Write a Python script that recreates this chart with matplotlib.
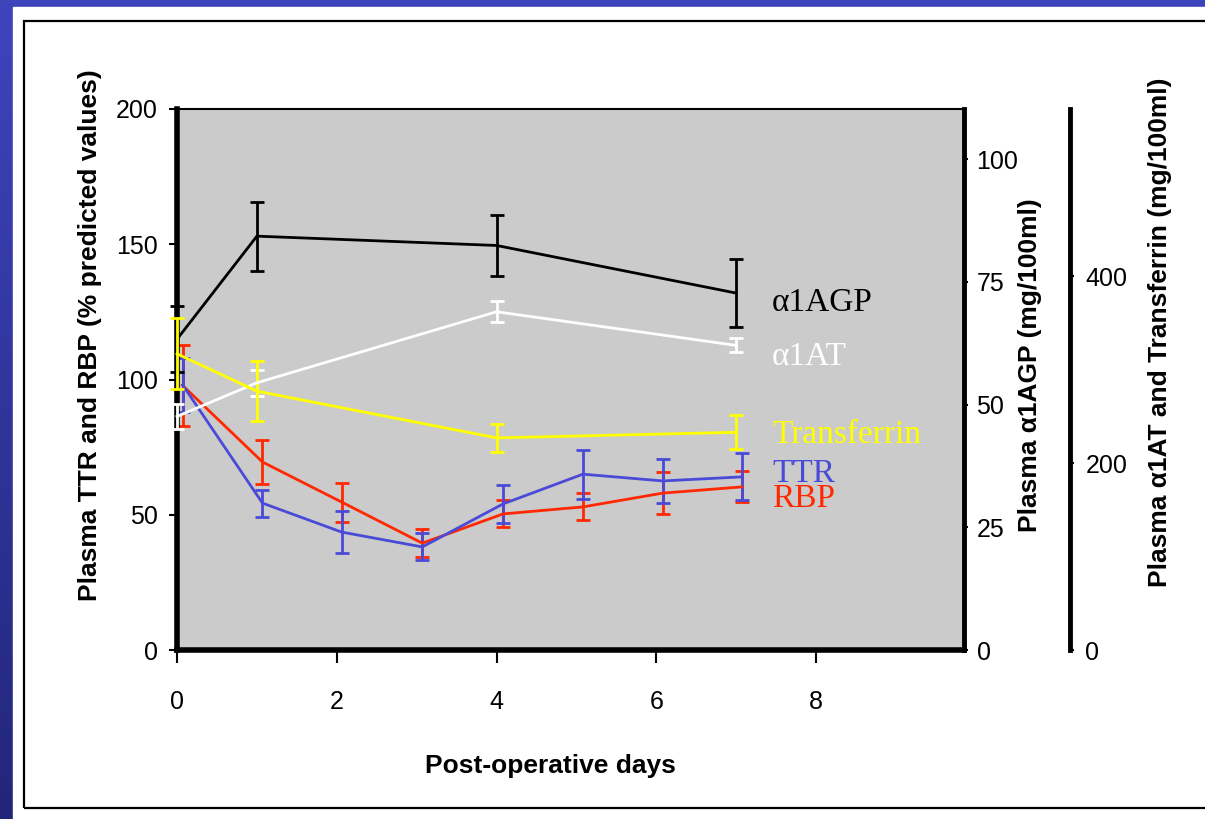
import matplotlib
matplotlib.use('Agg')
import matplotlib.pyplot as plt
import numpy as np
from matplotlib.patches import Rectangle

# Data
days = [0, 1, 4, 7]
days_tr = [0.07, 1.07, 2.06, 3.07, 4.08, 5.08, 6.08, 7.07]

# % predicted values (left axis)
ttr = [98, 54.3, 43.6, 38.1, 54, 65, 62.5, 64]
ttr_err = [10, 5, 7.7, 5, 7, 9, 8, 8.7]
rbp = [97.8, 69.5, 54.7, 39.5, 50.3, 52.9, 58, 60.3]
rbp_err = [15, 8, 7.2, 5.2, 5, 5, 7.7, 5.7]

# alpha1 AGP, mg/100ml (middle axis)
agp = [63.3, 84.3, 82.4, 72.7]
agp_err = [6.7, 7, 6.3, 7]

# alpha1 AT and transferrin, mg/100ml (right axis)
a1at = [250, 286, 362, 326]
a1at_err = [13, 14, 11, 7.5]
transferrin = [317, 277, 227, 233]
transferrin_err = [38, 32, 15, 18]

left_ticks = [0, 50, 100, 150, 200]
agp_ticks = [0, 25, 50, 75, 100]
right_ticks = [0, 200, 400]
x_ticks = [0, 2, 4, 6, 8]

W, H = 1205, 819
fig = plt.figure(figsize=(W / 100, H / 100), dpi=100)

# blue slide border + white panel + black frame
bg = fig.add_axes([0, 0, 1, 1], zorder=-10)
grad = np.linspace(0, 1, 256).reshape(-1, 1)
cmap = matplotlib.colors.LinearSegmentedColormap.from_list('b', ['#3e44bc', '#22267a'])
bg.imshow(grad, aspect='auto', cmap=cmap, extent=[0, 1, 0, 1], origin='upper')
bg.add_patch(Rectangle((13 / W, 0), 1, 1 - 7 / H, color='white'))
bg.add_patch(Rectangle((24 / W, 1 - 808 / H), 1.1, (808 - 21) / H,
                       fill=False, edgecolor='black', lw=1.6))
bg.set_xlim(0, 1)
bg.set_ylim(0, 1)
bg.axis('off')

ax = fig.add_axes([177 / W, 1 - 650 / H, (964 - 177) / W, (650 - 109) / H])
ax.set_facecolor('#cbcbcb')
ax.set_xlim(0, 9.85)
ax.set_ylim(0, 200)

ax2 = ax.twinx()
ax2.set_ylim(0, 110.2)
ax3 = ax.twinx()
ax3.set_ylim(0, 579)
ax3.spines['right'].set_position(('axes', 1.1347))

ekw = dict(capsize=5, capthick=2, elinewidth=2, lw=2, clip_on=False)
blue = '#4a4ad8'
red = '#ff2800'

ax.errorbar(days_tr, rbp, yerr=rbp_err, color=red, **ekw)
ax.errorbar(days_tr, ttr, yerr=ttr_err, color=blue, **ekw)
ax2.errorbar(days, agp, yerr=agp_err, color='black', **ekw)
ax3.errorbar(days, a1at, yerr=a1at_err, color='white', **ekw)
ax3.errorbar(days, transferrin, yerr=transferrin_err, color='#ffff00', **ekw)

# spines
for s in ['top', 'right']:
    ax.spines[s].set_linewidth(1.5)
ax.spines['left'].set_linewidth(4)
ax.spines['bottom'].set_linewidth(4)
ax2.spines['right'].set_linewidth(3.5)
ax3.spines['right'].set_linewidth(3.5)
for a in (ax2, ax3):
    a.spines['top'].set_visible(False)
    a.spines['left'].set_visible(False)
    a.spines['bottom'].set_visible(False)

tf = 'Liberation Sans'
ax.set_yticks(left_ticks)
ax.set_xticks(x_ticks)
ax.tick_params(axis='y', length=6, width=1.5, pad=8, labelsize=18)
ax.tick_params(axis='x', direction='out', length=9, width=1.5, pad=20, labelsize=18)
ax2.set_yticks(agp_ticks)
ax2.tick_params(axis='y', length=3, width=1.5, pad=6, labelsize=18)
ax3.set_yticks(right_ticks)
ax3.tick_params(axis='y', length=3, width=1.5, pad=8, labelsize=18)
for a in (ax, ax2, ax3):
    for lab in a.get_xticklabels() + a.get_yticklabels():
        lab.set_fontfamily(tf)

# axis titles
fig.text(90 / W, 1 - 335 / H, 'Plasma TTR and RBP (% predicted values)', rotation=90,
         ha='center', va='center', fontsize=19, fontweight='bold', family=tf)
fig.text(550 / W, 1 - 766 / H, 'Post-operative days', ha='center', va='center',
         fontsize=19, fontweight='bold', family=tf)
fig.text(1030 / W, 1 - 365 / H, 'Plasma α1AGP (mg/100ml)', rotation=90,
         ha='center', va='center', fontsize=19, fontweight='bold', family=tf)
fig.text(1160 / W, 1 - 332 / H, 'Plasma α1AT and Transferrin (mg/100ml)', rotation=90,
         ha='center', va='center', fontsize=19, fontweight='bold', family=tf)

# series labels
sf = 'Liberation Serif'
lx = 7.45
ax.text(lx, 128.3, 'α1AGP', color='black', fontsize=24, family=sf, va='center')
ax.text(lx, 108.3, 'α1AT', color='white', fontsize=24, family=sf, va='center')
ax.text(lx, 79.5, 'Transferrin', color='#ffff00', fontsize=24, family=sf, va='center')
ax.text(lx, 65.0, 'TTR', color=blue, fontsize=24, family=sf, va='center')
ax.text(lx, 55.8, 'RBP', color=red, fontsize=24, family=sf, va='center')

fig.savefig('out.png', dpi=100)
